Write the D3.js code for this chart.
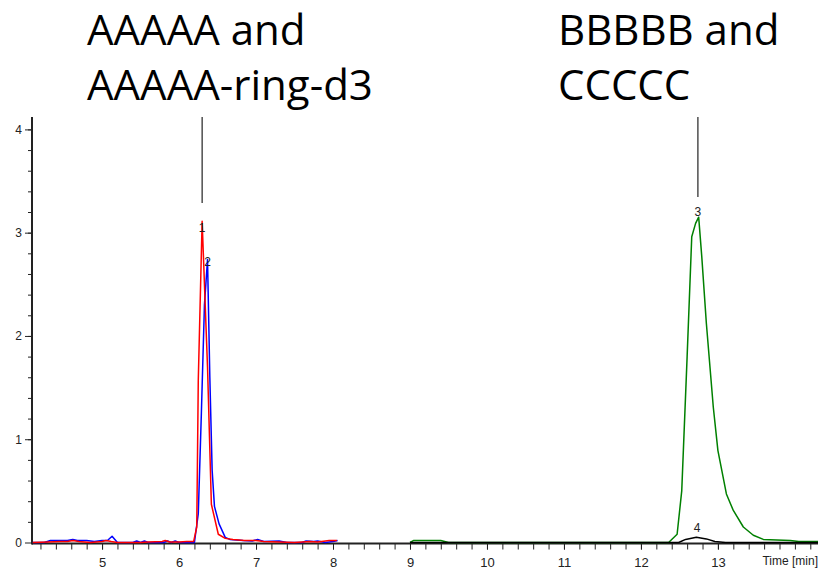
<!DOCTYPE html>
<html>
<head>
<meta charset="utf-8">
<script src="https://cdn.jsdelivr.net/npm/d3@7"></script>
<style>
  html, body { margin: 0; padding: 0; background: #fff; }
  svg { display: block; }
</style>
</head>
<body>
<svg id="chart" width="818" height="570"></svg>
<script>
// ---- data (time in min, signal) ----
const redTime  = [4.10,4.30,4.45,4.55,4.62,4.70,4.85,5.00,5.05,5.12,5.20,5.50,5.60,5.78,5.82,5.88,6.00,6.10,6.15,6.19,6.23,6.25,6.30,6.34,6.37,6.42,6.51,6.60,6.70,6.85,7.00,7.10,7.30,7.50,7.70,7.80,7.95,8.05];
const redValue = [0.00,0.005,0.01,0.01,0.02,0.01,0.00,0.01,0.02,0.01,0.00,0.00,0.005,0.01,0.02,0.005,0.005,0.01,0.01,0.01,0.15,1.57,3.11,2.30,1.70,0.37,0.08,0.04,0.03,0.02,0.02,0.01,0.005,0.00,0.01,0.005,0.02,0.02];

const blueTime  = [4.10,4.25,4.33,4.55,4.62,4.68,4.80,4.90,5.00,5.07,5.13,5.20,5.40,5.45,5.50,5.55,5.60,5.80,5.85,5.90,5.95,6.00,6.20,6.25,6.29,6.33,6.37,6.40,6.43,6.46,6.52,6.60,6.66,6.83,6.95,7.02,7.10,7.30,7.40,7.60,7.65,7.75,7.80,7.90,8.00,8.06];
const blueValue = [0.00,0.00,0.02,0.02,0.03,0.02,0.02,0.01,0.02,0.02,0.06,0.00,0.00,0.015,0.00,0.015,0.00,0.00,0.015,0.00,0.015,0.00,0.00,0.28,1.25,2.30,2.74,1.60,0.70,0.35,0.18,0.05,0.03,0.02,0.015,0.03,0.01,0.015,0.00,0.00,0.015,0.01,0.015,0.00,0.01,0.02];

const greenTime  = [9.00,9.05,9.40,9.50,12.36,12.47,12.53,12.60,12.66,12.71,12.75,12.79,12.85,12.94,13.00,13.11,13.20,13.33,13.46,13.59,13.94,14.05,14.30];
const greenValue = [0.00,0.02,0.02,0.00,0.00,0.08,0.50,1.80,2.96,3.09,3.15,2.77,2.12,1.31,0.89,0.47,0.31,0.15,0.07,0.03,0.02,0.01,0.01];

const blackTime  = [9.00,12.49,12.58,12.72,12.85,12.96,13.10,14.30];
const blackValue = [0.00,0.00,0.03,0.05,0.035,0.01,0.00,0.00];

const xTickLabels = [5,6,7,8,9,10,11,12,13];
const yTickLabels = [0,1,2,3,4];
const xAxisTitle = "Time [min]";

const peakLabels = ["1","2","3","4"];
const peakLabelTime  = [6.30, 6.37, 12.74, 12.73];
const peakLabelValue = [3.05, 2.72, 3.20, 0.14];

const markerTime = [6.30, 12.74];
const titleLines = [["AAAAA and","AAAAA-ring-d3"],["BBBBB and","CCCCC"]];

// ---- drawing ----
const svg = d3.select("#chart");
const x = d3.scaleLinear().domain([4.09, 14.3]).range([32, 818]);
const y = d3.scaleLinear().domain([0, 4.12]).range([542.5, 117]);
const axisY = 543.5;
const axisColor = "#222";

// Titles
const titleX = [87, 558];
titleLines.forEach((lines, i) => {
  lines.forEach((t, j) => {
    svg.append("text")
      .attr("x", titleX[i]).attr("y", j === 0 ? 45 : 100)
      .attr("font-family", "'Open Sans', sans-serif")
      .attr("font-size", 42)
      .attr("fill", "#000")
      .text(t);
  });
});

// Marker lines
const markerBottom = [203, 197];
markerTime.forEach((t, i) => {
  svg.append("line")
    .attr("x1", x(t)).attr("x2", x(t))
    .attr("y1", 117).attr("y2", markerBottom[i])
    .attr("stroke", axisColor).attr("stroke-width", 1.2);
});

// X axis: minor ticks
const minorX = d3.range(4.2, 14.25, 0.2);
const gx = svg.append("g").attr("transform", `translate(0,${axisY})`);
gx.call(d3.axisBottom(x).tickValues(minorX).tickSize(6).tickSizeOuter(0).tickFormat(""));
gx.call(g => g.select(".domain").remove());
const gx2 = svg.append("g").attr("transform", `translate(0,${axisY})`);
gx2.call(d3.axisBottom(x).tickValues(xTickLabels).tickSize(6).tickPadding(8).tickSizeOuter(0).tickFormat(d3.format("d")));
gx2.call(g => g.select(".domain").remove());
[gx, gx2].forEach(g => {
  g.selectAll("line").attr("stroke", axisColor).attr("stroke-width", 1);
  g.selectAll("text").attr("font-family", "'Liberation Sans', Arial, sans-serif").attr("font-size", 13).attr("fill", "#222");
});

// Y axis
const minorY = d3.range(0.2, 4.05, 0.2);
const gy = svg.append("g").attr("transform", `translate(32,0)`);
gy.call(d3.axisLeft(y).tickValues(minorY).tickSize(4).tickSizeOuter(0).tickFormat(""));
gy.call(g => g.select(".domain").remove());
const gy2 = svg.append("g").attr("transform", `translate(32,0)`);
gy2.call(d3.axisLeft(y).tickValues(yTickLabels).tickSize(7).tickPadding(3).tickSizeOuter(0).tickFormat(d3.format("d")));
gy2.call(g => g.select(".domain").remove());
[gy, gy2].forEach(g => {
  g.selectAll("line").attr("stroke", axisColor).attr("stroke-width", 1);
  g.selectAll("text").attr("font-family", "'Liberation Sans', Arial, sans-serif").attr("font-size", 12).attr("fill", "#222");
});

// Axis lines
svg.append("line").attr("x1", 32).attr("x2", 818).attr("y1", axisY).attr("y2", axisY)
  .attr("stroke", axisColor).attr("stroke-width", 2);
svg.append("line").attr("x1", 32).attr("x2", 32).attr("y1", 117).attr("y2", axisY + 1)
  .attr("stroke", axisColor).attr("stroke-width", 2);

// Axis title
svg.append("text")
  .attr("x", 818).attr("y", 565)
  .attr("text-anchor", "end")
  .attr("font-family", "'Liberation Sans', Arial, sans-serif")
  .attr("font-size", 12).attr("fill", "#222")
  .text(xAxisTitle);

// Traces
const line = d3.line().x(d => x(d[0])).y(d => y(d[1]));
const traces = [
  [greenTime, greenValue, "#008000"],
  [blackTime, blackValue, "#000000"],
  [blueTime, blueValue, "#0000ff"],
  [redTime, redValue, "#ff0000"]
];
traces.forEach(([t, v, c]) => {
  svg.append("path")
    .datum(t.map((tt, i) => [tt, v[i]]))
    .attr("d", line)
    .attr("fill", "none")
    .attr("stroke", c)
    .attr("stroke-width", 1.5)
    .attr("stroke-linejoin", "round");
});

// Peak labels
peakLabels.forEach((lab, i) => {
  svg.append("text")
    .attr("x", x(peakLabelTime[i])).attr("y", y(peakLabelValue[i]))
    .attr("text-anchor", "middle")
    .attr("dominant-baseline", "central")
    .attr("font-family", "'Liberation Sans', Arial, sans-serif")
    .attr("font-size", 12).attr("fill", "#222")
    .text(lab);
});
</script>
</body>
</html>
